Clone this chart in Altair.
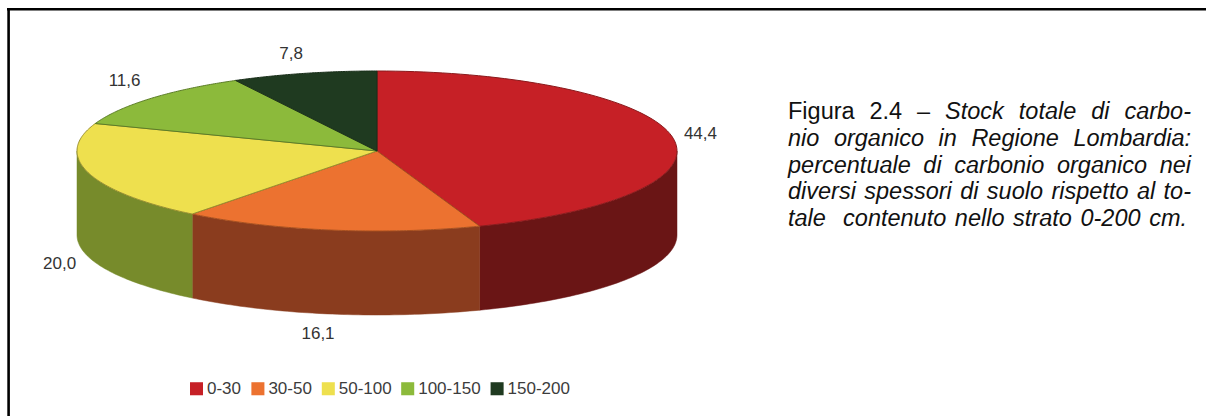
import math

import altair as alt
import numpy as np

# Carbon share per soil depth band (%)
bands = ["0-30", "30-50", "50-100", "100-150", "150-200"]
shares = [44.4, 16.1, 20.0, 11.6, 7.8]

top_colors = ["#c62026", "#ec7230", "#eee04e", "#8cba3b", "#1f3a20"]
edge_colors = ["#8a1a1c", "#a8501f", "#9a9030", "#5c7d28", "#1a2f1a"]
wall_colors = ["#6a1515", "#8a3c1e", "#778b2b", None, None]

# Pixel nudges of the value labels away from the rim
label_dx = [28, -12, -29, -26, -13]
label_dy = [-3, 20, 7, -18, -19]

caption_lines = [
    "Figura 2.4 – Stock totale di carbo-",
    "nio organico in Regione Lombardia:",
    "percentuale di carbonio organico nei",
    "diversi spessori di suolo rispetto al to-",
    "tale  contenuto nello strato 0-200 cm.",
]

FONT = "Liberation Sans"
WIDTH, HEIGHT = 1206, 416

# Pie geometry: unit radius, flattened by TILT, wall height DEPTH (both in radii)
RADIUS_PX, CX, CY = 300, 377, 151
TILT = 80 / 300
DEPTH = 84 / 300

CAPTION_LEFT, CAPTION_RIGHT, CAPTION_LAST_RIGHT = 788, 1191, 1187
CAPTION_SIZE, CAPTION_TOP, CAPTION_STEP = 23.5, 119, 26.75

# Helvetica advance widths, used for justifying the caption
GLYPHS = {
    **dict.fromkeys("abdeghnopqu0123456789–L", 556),
    **dict.fromkeys("cksvxyz", 500),
    **dict.fromkeys("ft.,: ", 278),
    **dict.fromkeys("ijl", 222),
    **dict.fromkeys("r-", 333),
    "m": 833, "w": 722, "F": 611, "R": 722, "S": 667,
}


def text_width(text):
    return sum(GLYPHS.get(c, 556) for c in text) * CAPTION_SIZE / 1000


def rim(theta, drop=0.0):
    """Point on the pie rim; theta runs clockwise from the top, in radians."""
    return [float(np.sin(theta)), float(TILT * np.cos(theta) - drop)]


def feature(ring, band):
    return {
        "type": "Feature",
        "properties": {"band": band},
        "geometry": {"type": "Polygon", "coordinates": [ring + [ring[0]]]},
    }


edges = 2 * np.pi * np.concatenate([[0], np.cumsum(shares)]) / sum(shares)
mids = (edges[:-1] + edges[1:]) / 2

projection = dict(type="identity", scale=RADIUS_PX, translate=[CX, CY], reflectY=True)

tops = [
    feature([[0.0, 0.0]] + [rim(t) for t in np.linspace(a, b, 90)], band)
    for a, b, band in zip(edges[:-1], edges[1:], bands)
]

layers = []

# Side walls exist only on the near half of the pie
for a, b, band, wall in zip(edges[:-1], edges[1:], bands, wall_colors):
    if wall is None:
        continue
    a, b = max(a, np.pi / 2), min(b, 3 * np.pi / 2)
    arc = np.linspace(a, b, 60)
    ring = [rim(t) for t in arc] + [rim(t, DEPTH) for t in arc[::-1]]
    layers.append(
        alt.Chart(alt.Data(values=[feature(ring, band)]))
        .mark_geoshape(fill=wall, stroke=wall, strokeWidth=0.5)
        .project(**projection)
    )

layers.append(
    alt.Chart(alt.Data(values=tops))
    .mark_geoshape(strokeWidth=1)
    .encode(
        color=alt.Color(
            "properties.band:N",
            scale=alt.Scale(domain=bands, range=top_colors),
            legend=alt.Legend(
                title=None,
                orient="none",
                legendX=188,
                legendY=380,
                direction="horizontal",
                columns=5,
                gridAlign="each",
                symbolType="square",
                symbolSize=170,
                symbolStrokeWidth=0,
                labelFont=FONT,
                labelFontSize=17,
                labelColor="#3c3c3c",
                labelOffset=2,
                columnPadding=7.4,
                padding=0,
            ),
        ),
        stroke=alt.Stroke(
            "properties.band:N",
            scale=alt.Scale(domain=bands, range=edge_colors),
            legend=None,
        ),
    )
    .project(**projection)
)

# Value labels hang off the rim, the near ones off the wall's lower edge
for theta, value, dx, dy in zip(mids, shares, label_dx, label_dy):
    x, y = rim(theta, DEPTH if math.cos(theta) < 0 else 0.0)
    layers.append(
        alt.Chart(alt.Data(values=[{"lon": x, "lat": y, "label": f"{value:.1f}".replace(".", ",")}]))
        .mark_text(font=FONT, fontSize=17, color="#333333", dx=dx, dy=dy)
        .encode(longitude="lon:Q", latitude="lat:Q", text="label:N")
        .project(**projection)
    )

# Justified caption, set word by word; the last line keeps its double space
roman, italic = [], []
for i, line in enumerate(caption_lines):
    words = line.split()
    y = CAPTION_TOP + i * CAPTION_STEP
    last = i == len(caption_lines) - 1
    right = CAPTION_LAST_RIGHT if last else CAPTION_RIGHT
    free = right - CAPTION_LEFT - sum(text_width(w) for w in words)
    gap = free / (len(words) if last else len(words) - 1)
    x = CAPTION_LEFT
    for j, word in enumerate(words):
        target = roman if i == 0 and j < 3 else italic
        target.append({"word": word, "x": x, "y": y})
        x += text_width(word) + gap * (2 if last and j == 0 else 1)

for rows, style in ((roman, "normal"), (italic, "italic")):
    layers.append(
        alt.Chart(alt.Data(values=rows))
        .mark_text(
            font=FONT, fontSize=CAPTION_SIZE, fontStyle=style, color="#111111",
            align="left", baseline="alphabetic",
        )
        .encode(
            x=alt.X("x:Q", scale=None, axis=None),
            y=alt.Y("y:Q", scale=None, axis=None),
            text="word:N",
        )
    )

# Frame: only the top and left sides are drawn
layers.append(
    alt.Chart(alt.Data(values=[{}]))
    .mark_rule(color="#000000", strokeWidth=2.6)
    .encode(x=alt.value(7), x2=alt.value(WIDTH), y=alt.value(9.2))
)
layers.append(
    alt.Chart(alt.Data(values=[{}]))
    .mark_rule(color="#000000", strokeWidth=2.6)
    .encode(x=alt.value(8.6), y=alt.value(8), y2=alt.value(HEIGHT))
)

chart = (
    alt.layer(*layers)
    .properties(
        width=WIDTH,
        height=HEIGHT,
        padding=0,
        autosize=alt.AutoSizeParams(type="none"),
        background="#ffffff",
    )
    .configure_view(stroke=None)
)

chart.save("out.html", embed_options={"renderer": "svg", "actions": False})
